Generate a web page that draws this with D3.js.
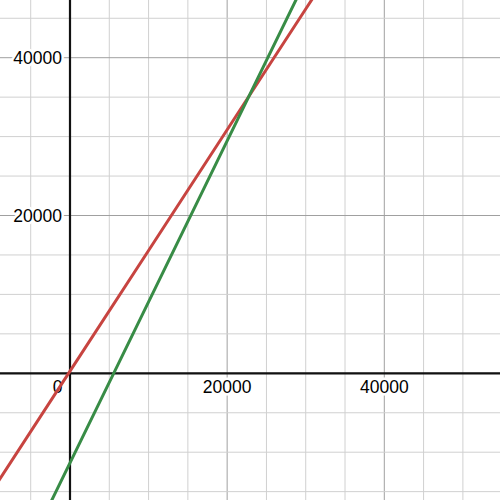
<!DOCTYPE html>
<html><head><meta charset="utf-8">
<script src="https://cdn.jsdelivr.net/npm/d3@7"></script>
<style>body{margin:0;background:#fff}svg{display:block}</style>
</head><body>
<script>
// Data
const redX = [-10000, 0, 10000, 20000, 30000, 35000];
const redY = [-15030, 270, 15570, 30870, 46170, 53820];
const greenX = [-5000, 0, 10000, 20000, 30000];
const greenY = [-21550, -11350, 9050, 29450, 49850];
const xTickLabels = [0, 20000, 40000];
const yTickLabels = [20000, 40000];

const W = 500, H = 500;
const x = d3.scaleLinear().domain([0, 40000]).range([70, 384.3]);
const y = d3.scaleLinear().domain([0, 40000]).range([373.3, 57.7]);
const xMin = x.invert(0), xMax = x.invert(W);
const yMin = y.invert(H), yMax = y.invert(0);

const svg = d3.select("body").append("svg").attr("width", W).attr("height", H);
svg.append("defs").append("clipPath").attr("id","clip")
  .append("rect").attr("width", W).attr("height", H);

const minorX = d3.range(Math.ceil(xMin/5000)*5000, xMax, 5000);
const minorY = d3.range(Math.ceil(yMin/5000)*5000, yMax, 5000);

const g = svg.append("g");
g.selectAll("line.vx").data(minorX).join("line")
  .attr("x1", d => x(d)).attr("x2", d => x(d)).attr("y1", 0).attr("y2", H)
  .attr("stroke", d => d % 20000 === 0 ? "#a0a0a0" : "#d0d0d0").attr("stroke-width", 1);
g.selectAll("line.hy").data(minorY).join("line")
  .attr("y1", d => y(d)).attr("y2", d => y(d)).attr("x1", 0).attr("x2", W)
  .attr("stroke", d => d % 20000 === 0 ? "#a0a0a0" : "#d0d0d0").attr("stroke-width", 1);

// axes
svg.append("line").attr("x1", x(0)).attr("x2", x(0)).attr("y1", 0).attr("y2", H)
  .attr("stroke", "#111").attr("stroke-width", 2.2);
svg.append("line").attr("y1", y(0)).attr("y2", y(0)).attr("x1", 0).attr("x2", W)
  .attr("stroke", "#111").attr("stroke-width", 2.2);

// labels
const font = "'Liberation Sans', Arial, sans-serif";
const lab = svg.append("g").attr("font-family", font).attr("font-size", 17.5).attr("fill", "#000")
  .attr("stroke", "#fff").attr("stroke-width", 5).attr("paint-order", "stroke").attr("stroke-linejoin","round");
lab.selectAll("text.xl").data(xTickLabels.filter(d => d !== 0)).join("text")
  .attr("x", d => x(d)).attr("y", y(0) + 20).attr("text-anchor", "middle").text(d => d);
lab.append("text").attr("x", x(0) - 7.5).attr("y", y(0) + 20).attr("text-anchor", "end").text(xTickLabels[0]);
lab.selectAll("text.yl").data(yTickLabels).join("text")
  .attr("x", x(0) - 8).attr("y", d => y(d) + 6).attr("text-anchor", "end").text(d => d);

// lines
const line = d3.line().x(d => x(d[0])).y(d => y(d[1]));
const plot = svg.append("g").attr("clip-path", "url(#clip)").attr("fill", "none")
  .attr("stroke-width", 3).attr("stroke-linecap", "round");
plot.append("path").datum(redX.map((v, i) => [v, redY[i]])).attr("d", line).attr("stroke", "#c74440");
plot.append("path").datum(greenX.map((v, i) => [v, greenY[i]])).attr("d", line).attr("stroke", "#388c46");
</script>
</body></html>
